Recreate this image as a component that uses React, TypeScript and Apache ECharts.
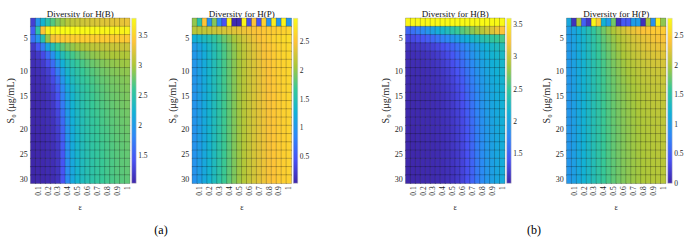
import React, { useEffect, useRef } from "react";
import * as echarts from "echarts";

// ---------- data ----------
const EPSILON = ["0.05","0.1","0.15","0.2","0.25","0.3","0.35","0.4","0.45","0.5","0.55","0.6","0.65","0.7","0.75","0.8","0.85","0.9","0.95","1"];
const S0 = ["1.5","3","4.5","6","7.5","9","10.5","12","13.5","15","16.5","18","19.5","21","22.5","24","25.5","27","28.5","30"];
const Y_TICK_ROWS = [2, 6, 9, 13, 16, 19];
const Y_TICK_LABELS = ["5", "10", "15", "20", "25", "30"];
const TITLES = ["Diversity for H(B)", "Diversity for H(P)", "Diversity for H(B)", "Diversity for H(P)"];
const PANEL_LABELS = ["(a)", "(b)"];
const COLOR_RANGES = [[1.03, 3.79], [0.04, 2.9], [1.04, 3.6], [0, 2.8]];

const PARULA = ["#3e26a8", "#4852f4", "#2e87f7", "#12b1d6", "#37c897", "#abc739", "#fec338", "#f9fb15"];

// (a) H(B)
const HB_A: number[][] = [
  [1.25,1.95,2.25,2.5,2.7,2.85,2.95,3.05,3.1,3.13,3.16,3.18,3.2,3.22,3.24,3.25,3.26,3.27,3.28,3.3],
  [1.5,2.5,3.4,3.72,3.76,3.78,3.79,3.79,3.78,3.78,3.77,3.77,3.76,3.76,3.75,3.75,3.74,3.74,3.73,3.73],
  [1.65,1.95,2.45,2.95,3.35,3.42,3.45,3.46,3.47,3.47,3.47,3.47,3.47,3.46,3.46,3.46,3.45,3.45,3.45,3.44],
  [1.2,1.45,1.75,2.1,2.4,2.6,2.75,2.85,2.92,2.98,3.02,3.05,3.08,3.1,3.11,3.12,3.13,3.14,3.15,3.15],
  [1.12,1.2,1.35,1.6,1.9,2.2,2.4,2.55,2.65,2.73,2.8,2.85,2.9,2.93,2.96,2.98,3.0,3.01,3.02,3.03],
  [1.1,1.14,1.22,1.38,1.62,1.95,2.2,2.38,2.5,2.6,2.67,2.73,2.78,2.82,2.86,2.89,2.91,2.93,2.95,2.96],
  [1.08,1.11,1.16,1.25,1.45,1.75,2.05,2.28,2.42,2.52,2.6,2.66,2.71,2.76,2.8,2.83,2.86,2.88,2.9,2.91],
  [1.07,1.09,1.13,1.2,1.35,1.6,1.95,2.2,2.36,2.47,2.55,2.62,2.67,2.72,2.76,2.79,2.82,2.84,2.86,2.88],
  [1.06,1.08,1.11,1.17,1.28,1.5,1.85,2.12,2.3,2.42,2.51,2.58,2.64,2.69,2.73,2.77,2.8,2.82,2.84,2.86],
  [1.06,1.07,1.1,1.15,1.24,1.43,1.78,2.07,2.26,2.39,2.48,2.56,2.62,2.67,2.71,2.75,2.78,2.8,2.82,2.84],
  [1.05,1.07,1.09,1.13,1.2,1.37,1.72,2.03,2.23,2.36,2.46,2.54,2.6,2.65,2.69,2.73,2.76,2.79,2.81,2.83],
  [1.05,1.06,1.08,1.12,1.17,1.32,1.66,2.0,2.21,2.34,2.44,2.52,2.58,2.63,2.67,2.71,2.74,2.77,2.79,2.81],
  [1.05,1.06,1.08,1.11,1.15,1.28,1.6,1.97,2.19,2.32,2.42,2.5,2.56,2.61,2.66,2.7,2.73,2.76,2.78,2.8],
  [1.05,1.06,1.07,1.1,1.14,1.25,1.56,1.95,2.17,2.31,2.41,2.49,2.55,2.6,2.65,2.68,2.72,2.75,2.77,2.79],
  [1.04,1.05,1.07,1.09,1.13,1.22,1.52,1.93,2.16,2.3,2.4,2.48,2.54,2.59,2.64,2.67,2.71,2.74,2.76,2.78],
  [1.04,1.05,1.07,1.09,1.12,1.2,1.49,1.91,2.15,2.29,2.39,2.47,2.53,2.58,2.63,2.66,2.7,2.73,2.75,2.77],
  [1.04,1.05,1.06,1.08,1.11,1.18,1.47,1.9,2.14,2.28,2.38,2.46,2.52,2.57,2.62,2.66,2.69,2.72,2.74,2.76],
  [1.04,1.05,1.06,1.08,1.1,1.17,1.45,1.89,2.13,2.27,2.37,2.45,2.51,2.57,2.61,2.65,2.68,2.71,2.74,2.75],
  [1.04,1.05,1.06,1.08,1.1,1.16,1.44,1.88,2.12,2.26,2.37,2.45,2.51,2.56,2.61,2.65,2.68,2.71,2.73,2.75],
  [1.04,1.05,1.06,1.07,1.09,1.15,1.43,1.87,2.12,2.26,2.36,2.44,2.5,2.56,2.6,2.64,2.67,2.7,2.72,2.74],
];

// (a) H(P)
const HP_A: number[][] = [
  [2.0,1.55,2.5,0.95,1.95,0.9,0.45,2.85,0.1,0.1,2.85,0.4,2.5,0.45,2.6,0.95,2.8,1.0,2.85,1.0],
  [2.15,2.17,2.19,2.21,2.23,2.26,2.29,2.32,2.35,2.38,2.41,2.44,2.47,2.5,2.52,2.54,2.56,2.58,2.6,2.62],
  [1.25,1.32,1.4,1.5,1.61,1.73,1.85,1.96,2.07,2.17,2.26,2.34,2.41,2.47,2.52,2.56,2.6,2.63,2.66,2.68],
  [1.05,1.14,1.25,1.37,1.5,1.63,1.76,1.88,1.99,2.09,2.19,2.27,2.35,2.41,2.47,2.52,2.56,2.6,2.63,2.65],
  [1.02,1.11,1.22,1.35,1.48,1.61,1.74,1.86,1.97,2.08,2.17,2.26,2.33,2.4,2.46,2.51,2.55,2.59,2.62,2.64],
  [1.01,1.1,1.21,1.34,1.47,1.6,1.73,1.85,1.96,2.07,2.16,2.25,2.32,2.39,2.45,2.5,2.54,2.58,2.61,2.63],
  [1.0,1.1,1.21,1.33,1.46,1.59,1.72,1.84,1.96,2.06,2.16,2.24,2.32,2.38,2.44,2.49,2.54,2.57,2.6,2.63],
  [1.0,1.09,1.2,1.33,1.46,1.59,1.72,1.84,1.95,2.06,2.15,2.24,2.31,2.38,2.44,2.49,2.53,2.57,2.6,2.62],
  [1.0,1.09,1.2,1.32,1.45,1.58,1.71,1.83,1.95,2.05,2.15,2.23,2.31,2.37,2.43,2.48,2.53,2.56,2.6,2.62],
  [0.99,1.09,1.2,1.32,1.45,1.58,1.71,1.83,1.94,2.05,2.14,2.23,2.3,2.37,2.43,2.48,2.52,2.56,2.59,2.62],
  [0.99,1.08,1.19,1.32,1.45,1.58,1.71,1.83,1.94,2.05,2.14,2.22,2.3,2.37,2.42,2.47,2.52,2.56,2.59,2.61],
  [0.99,1.08,1.19,1.31,1.44,1.57,1.7,1.82,1.94,2.04,2.14,2.22,2.3,2.36,2.42,2.47,2.52,2.55,2.59,2.61],
  [0.99,1.08,1.19,1.31,1.44,1.57,1.7,1.82,1.93,2.04,2.13,2.22,2.29,2.36,2.42,2.47,2.51,2.55,2.58,2.61],
  [0.98,1.08,1.19,1.31,1.44,1.57,1.7,1.82,1.93,2.04,2.13,2.22,2.29,2.36,2.42,2.47,2.51,2.55,2.58,2.61],
  [0.98,1.08,1.18,1.31,1.44,1.57,1.7,1.82,1.93,2.04,2.13,2.21,2.29,2.36,2.41,2.46,2.51,2.55,2.58,2.6],
  [0.98,1.07,1.18,1.31,1.44,1.57,1.69,1.81,1.93,2.03,2.13,2.21,2.29,2.35,2.41,2.46,2.51,2.55,2.58,2.6],
  [0.98,1.07,1.18,1.3,1.43,1.56,1.69,1.81,1.93,2.03,2.13,2.21,2.29,2.35,2.41,2.46,2.51,2.54,2.58,2.6],
  [0.98,1.07,1.18,1.3,1.43,1.56,1.69,1.81,1.92,2.03,2.12,2.21,2.28,2.35,2.41,2.46,2.5,2.54,2.57,2.6],
  [0.98,1.07,1.18,1.3,1.43,1.56,1.69,1.81,1.92,2.03,2.12,2.21,2.28,2.35,2.41,2.46,2.5,2.54,2.57,2.6],
  [0.97,1.07,1.18,1.3,1.43,1.56,1.69,1.81,1.92,2.03,2.12,2.2,2.28,2.35,2.41,2.46,2.5,2.54,2.57,2.59],
];

// (b) H(B)
const HB_B: number[][] = [
  [3.57,3.58,3.58,3.58,3.59,3.59,3.59,3.59,3.59,3.59,3.59,3.59,3.59,3.59,3.59,3.59,3.59,3.59,3.59,3.59],
  [1.55,1.62,1.7,1.8,1.9,2.0,2.1,2.2,2.3,2.4,2.5,2.6,2.68,2.76,2.84,2.92,3.0,3.08,3.16,3.24],
  [1.3,1.33,1.37,1.42,1.48,1.55,1.63,1.72,1.8,1.88,1.96,2.05,2.13,2.2,2.27,2.34,2.4,2.45,2.5,2.55],
  [1.15,1.16,1.18,1.2,1.23,1.27,1.32,1.38,1.45,1.53,1.62,1.72,1.82,1.92,2.0,2.08,2.15,2.21,2.27,2.32],
  [1.1,1.11,1.12,1.13,1.15,1.18,1.22,1.28,1.35,1.44,1.54,1.65,1.76,1.87,1.96,2.04,2.1,2.16,2.2,2.24],
  [1.09,1.1,1.1,1.11,1.13,1.15,1.18,1.23,1.29,1.37,1.47,1.58,1.7,1.81,1.91,1.99,2.06,2.12,2.16,2.2],
  [1.08,1.09,1.09,1.1,1.11,1.13,1.16,1.2,1.25,1.32,1.41,1.52,1.64,1.76,1.87,1.96,2.03,2.09,2.14,2.18],
  [1.08,1.08,1.09,1.09,1.1,1.12,1.14,1.17,1.22,1.28,1.37,1.47,1.6,1.72,1.84,1.93,2.01,2.07,2.12,2.16],
  [1.07,1.08,1.08,1.09,1.1,1.11,1.13,1.16,1.2,1.25,1.33,1.43,1.56,1.69,1.81,1.91,1.99,2.05,2.1,2.15],
  [1.07,1.07,1.08,1.08,1.09,1.1,1.12,1.14,1.18,1.23,1.3,1.4,1.52,1.66,1.79,1.89,1.97,2.04,2.09,2.14],
  [1.07,1.07,1.08,1.08,1.09,1.1,1.11,1.13,1.17,1.21,1.28,1.37,1.49,1.63,1.77,1.88,1.96,2.03,2.08,2.13],
  [1.06,1.07,1.07,1.08,1.08,1.09,1.11,1.13,1.16,1.2,1.26,1.35,1.47,1.61,1.75,1.86,1.95,2.02,2.07,2.12],
  [1.06,1.07,1.07,1.08,1.08,1.09,1.1,1.12,1.15,1.19,1.25,1.33,1.45,1.59,1.73,1.85,1.94,2.01,2.07,2.11],
  [1.06,1.06,1.07,1.07,1.08,1.09,1.1,1.12,1.14,1.18,1.24,1.32,1.43,1.57,1.72,1.84,1.93,2.0,2.06,2.11],
  [1.06,1.06,1.07,1.07,1.08,1.08,1.1,1.11,1.14,1.17,1.23,1.31,1.42,1.56,1.71,1.83,1.92,2.0,2.05,2.1],
  [1.06,1.06,1.07,1.07,1.08,1.08,1.09,1.11,1.13,1.17,1.22,1.3,1.41,1.55,1.7,1.82,1.92,1.99,2.05,2.1],
  [1.06,1.06,1.06,1.07,1.07,1.08,1.09,1.11,1.13,1.16,1.21,1.29,1.4,1.54,1.69,1.82,1.91,1.99,2.05,2.09],
  [1.06,1.06,1.06,1.07,1.07,1.08,1.09,1.1,1.13,1.16,1.21,1.28,1.39,1.53,1.68,1.81,1.91,1.98,2.04,2.09],
  [1.05,1.06,1.06,1.07,1.07,1.08,1.09,1.1,1.12,1.15,1.2,1.28,1.38,1.52,1.68,1.81,1.9,1.98,2.04,2.09],
  [1.05,1.06,1.06,1.07,1.07,1.08,1.09,1.1,1.12,1.15,1.2,1.27,1.38,1.52,1.67,1.8,1.9,1.98,2.04,2.08],
];

// (b) H(P)
const HP_B: number[][] = [
  [1.1,0.1,2.0,0.5,0.15,2.75,2.45,1.2,1.0,1.8,0.1,0.45,0.45,1.0,1.0,0.1,2.0,0.9,2.75,1.9],
  [1.0,1.08,1.18,1.3,1.42,1.55,1.68,1.8,1.91,2.01,2.1,2.18,2.25,2.3,2.35,2.39,2.42,2.44,2.45,2.46],
  [0.99,1.07,1.16,1.27,1.39,1.51,1.63,1.74,1.84,1.93,2.01,2.08,2.14,2.2,2.24,2.28,2.31,2.34,2.36,2.37],
  [0.98,1.06,1.15,1.26,1.37,1.49,1.6,1.71,1.8,1.89,1.97,2.04,2.1,2.15,2.19,2.23,2.26,2.28,2.3,2.31],
  [0.97,1.05,1.14,1.25,1.36,1.47,1.58,1.68,1.77,1.86,1.93,2.0,2.05,2.1,2.14,2.18,2.2,2.22,2.24,2.25],
  [0.97,1.05,1.14,1.24,1.35,1.46,1.56,1.66,1.75,1.83,1.9,1.96,2.02,2.06,2.1,2.13,2.16,2.18,2.19,2.2],
  [0.96,1.04,1.13,1.23,1.34,1.45,1.55,1.65,1.73,1.81,1.88,1.94,1.99,2.03,2.07,2.1,2.12,2.14,2.15,2.16],
  [0.96,1.04,1.13,1.23,1.33,1.44,1.54,1.63,1.72,1.79,1.86,1.92,1.97,2.01,2.05,2.08,2.1,2.12,2.13,2.14],
  [0.96,1.04,1.13,1.23,1.33,1.43,1.53,1.63,1.71,1.78,1.85,1.9,1.95,1.99,2.03,2.06,2.08,2.1,2.11,2.12],
  [0.96,1.04,1.12,1.22,1.33,1.43,1.53,1.62,1.7,1.77,1.84,1.89,1.94,1.98,2.02,2.05,2.07,2.09,2.1,2.11],
  [0.95,1.03,1.12,1.22,1.32,1.43,1.52,1.62,1.7,1.77,1.83,1.88,1.93,1.97,2.01,2.04,2.06,2.08,2.09,2.1],
  [0.95,1.03,1.12,1.22,1.32,1.42,1.52,1.61,1.69,1.76,1.82,1.88,1.92,1.96,2.0,2.03,2.05,2.07,2.08,2.09],
  [0.95,1.03,1.12,1.22,1.32,1.42,1.52,1.61,1.69,1.76,1.82,1.87,1.92,1.96,1.99,2.02,2.04,2.06,2.07,2.08],
  [0.95,1.03,1.12,1.22,1.32,1.42,1.51,1.61,1.68,1.75,1.81,1.87,1.91,1.95,1.99,2.02,2.04,2.06,2.07,2.08],
  [0.95,1.03,1.12,1.21,1.32,1.42,1.51,1.6,1.68,1.75,1.81,1.86,1.91,1.95,1.98,2.01,2.03,2.05,2.06,2.07],
  [0.95,1.03,1.12,1.21,1.32,1.42,1.51,1.6,1.68,1.75,1.81,1.86,1.91,1.95,1.98,2.01,2.03,2.05,2.06,2.07],
  [0.95,1.03,1.12,1.21,1.31,1.41,1.51,1.6,1.68,1.75,1.81,1.86,1.9,1.94,1.98,2.0,2.03,2.04,2.06,2.07],
  [0.95,1.03,1.12,1.21,1.31,1.41,1.51,1.6,1.68,1.74,1.8,1.86,1.9,1.94,1.97,2.0,2.02,2.04,2.05,2.06],
  [0.95,1.03,1.11,1.21,1.31,1.41,1.51,1.6,1.67,1.74,1.8,1.85,1.9,1.94,1.97,2.0,2.02,2.04,2.05,2.06],
  [0.95,1.03,1.11,1.21,1.31,1.41,1.5,1.59,1.67,1.74,1.8,1.85,1.9,1.94,1.97,2.0,2.02,2.04,2.05,2.06],
];

const MATRICES = [HB_A, HP_A, HB_B, HP_B];

// ---------- layout ----------
const FONT = "'Liberation Serif', 'Times New Roman', 'DejaVu Serif', serif";
const TEXT_COLOR = "#262626";
const GRID_LEFTS = [30.7, 192.3, 405.7, 566.7];
const GRID_TOP = 18.3;
const GRID_W = 99;
const GRID_H = 165;
const CB_GAP = 2;
const CB_W = 4.5;
const YNAME_GAP = [15, 12, 12, 12];
const PANEL_LABEL_X = [161, 534];
const PANEL_LABEL_Y = 230;

function toCells(m: number[][]) {
  const out: number[][] = [];
  m.forEach((row, r) => row.forEach((v, c) => out.push([c, r, v])));
  return out;
}

export default function App() {
  const ref = useRef<HTMLDivElement>(null);

  useEffect(() => {
    if (!ref.current) return;
    const chart = echarts.init(ref.current, undefined, { renderer: "svg" });

    const grid: any[] = [];
    const xAxis: any[] = [];
    const yAxis: any[] = [];
    const series: any[] = [];
    const visualMap: any[] = [];
    const graphic: any[] = [];

    const stops = PARULA.map((c, i) => ({ offset: i / (PARULA.length - 1), color: c }));

    for (let i = 0; i < 4; i++) {
      grid.push({ left: GRID_LEFTS[i], top: GRID_TOP, width: GRID_W, height: GRID_H, containLabel: false });
      xAxis.push({
        type: "category",
        gridIndex: i,
        data: EPSILON,
        name: "ε",
        nameLocation: "middle",
        nameGap: 14,
        nameTextStyle: { fontFamily: FONT, fontSize: 8, color: TEXT_COLOR },
        axisLine: { show: false },
        axisTick: { show: false },
        splitLine: { show: false },
        axisLabel: {
          interval: (idx: number) => idx % 2 === 1,
          rotate: 90,
          margin: 3,
          fontFamily: FONT,
          fontSize: 7.5,
          color: TEXT_COLOR,
        },
      });
      yAxis.push({
        type: "category",
        gridIndex: i,
        data: S0,
        inverse: true,
        name: "S\u2080 (\u03bcg/mL)",
        nameLocation: "middle",
        nameRotate: 90,
        nameGap: YNAME_GAP[i],
        nameTextStyle: { fontFamily: FONT, fontSize: 10, color: TEXT_COLOR },
        axisLine: { show: false },
        axisTick: { show: false },
        splitLine: { show: false },
        axisLabel: {
          interval: (idx: number) => Y_TICK_ROWS.indexOf(idx) >= 0,
          formatter: (_v: string, idx: number) => {
            const k = Y_TICK_ROWS.indexOf(idx);
            return k >= 0 ? Y_TICK_LABELS[k] : "";
          },
          margin: 3,
          fontFamily: FONT,
          fontSize: 8,
          color: TEXT_COLOR,
        },
      });
      series.push({
        type: "heatmap",
        xAxisIndex: i,
        yAxisIndex: i,
        data: toCells(MATRICES[i]),
        itemStyle: { borderColor: "rgba(20,20,20,0.45)", borderWidth: 0.5 },
        emphasis: { disabled: true },
        progressive: 0,
      });
      visualMap.push({
        type: "continuous",
        show: false,
        seriesIndex: i,
        min: COLOR_RANGES[i][0],
        max: COLOR_RANGES[i][1],
        inRange: { color: PARULA },
      });
      graphic.push({
        type: "text",
        x: GRID_LEFTS[i] + GRID_W / 2,
        y: GRID_TOP - 4,
        style: {
          text: TITLES[i],
          textAlign: "center",
          textVerticalAlign: "middle",
          fontFamily: FONT,
          fontSize: 9,
          fill: "#111",
        },
      });
    }

    for (let i = 0; i < 4; i++) {
      const gi = 4 + i;
      grid.push({ left: GRID_LEFTS[i] + GRID_W + CB_GAP, top: GRID_TOP, width: CB_W, height: GRID_H });
      xAxis.push({ type: "category", gridIndex: gi, data: ["cb"], show: false });
      yAxis.push({
        type: "value",
        gridIndex: gi,
        position: "right",
        min: COLOR_RANGES[i][0],
        max: COLOR_RANGES[i][1],
        splitNumber: 5,
        axisLine: { show: false },
        axisTick: { show: false },
        splitLine: { show: false },
        axisLabel: {
          showMinLabel: COLOR_RANGES[i][0] === 0,
          showMaxLabel: false,
          margin: 2,
          fontFamily: FONT,
          fontSize: 7.5,
          color: TEXT_COLOR,
        },
      });
      series.push({
        type: "custom",
        xAxisIndex: gi,
        yAxisIndex: gi,
        data: [[0, COLOR_RANGES[i][0], COLOR_RANGES[i][1]]],
        encode: { x: 0, y: [1, 2] },
        renderItem: (_p: any, api: any) => {
          const lo = api.coord([0, api.value(1)]);
          const hi = api.coord([0, api.value(2)]);
          const bw = api.size([1, 0])[0];
          return {
            type: "rect",
            shape: { x: lo[0] - bw / 2, y: hi[1], width: bw, height: lo[1] - hi[1] },
            style: {
              fill: new echarts.graphic.LinearGradient(0, 1, 0, 0, stops),
              stroke: "#c8c8c8",
              lineWidth: 0.5,
            },
          };
        },
        silent: true,
      });
    }

    PANEL_LABELS.forEach((t, k) => {
      graphic.push({
        type: "text",
        x: PANEL_LABEL_X[k],
        y: PANEL_LABEL_Y,
        style: {
          text: t,
          textAlign: "center",
          textVerticalAlign: "middle",
          fontFamily: FONT,
          fontSize: 12,
          fill: "#000",
        },
      });
    });

    chart.setOption({
      animation: false,
      backgroundColor: "#ffffff",
      textStyle: { fontFamily: FONT },
      grid,
      xAxis,
      yAxis,
      visualMap,
      series,
      graphic,
    });

    return () => chart.dispose();
  }, []);

  return (
    <div
      ref={ref}
      style={{ position: "fixed", left: 0, top: 0, width: 691, height: 243 }}
    />
  );
}
